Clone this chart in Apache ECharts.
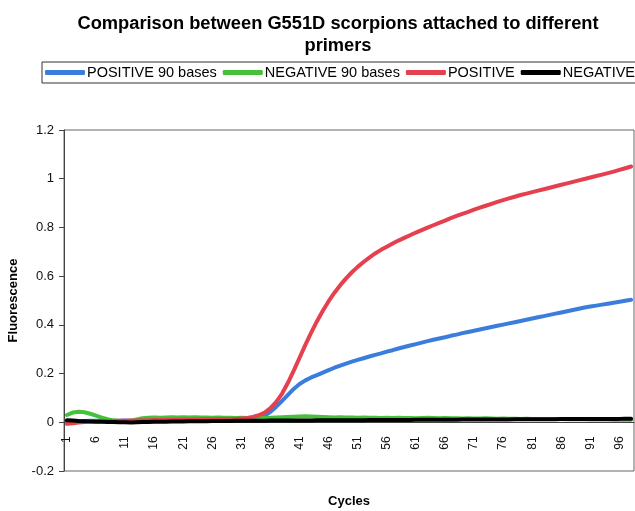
<!DOCTYPE html>
<html>
<head>
<meta charset="utf-8">
<script src="https://cdn.jsdelivr.net/npm/echarts@6/dist/echarts.min.js"></script>
<style>
  html, body { margin: 0; padding: 0; background: #fff; }
  #chart { width: 635px; height: 511px; }
</style>
</head>
<body>
<div id="chart"></div>
<script>
// cycles 1..98 (the picture stops at the right edge)
const cycles = [];
for (let i = 1; i <= 98; i++) cycles.push(String(i));

const positive90 = [0.004,0.004,0.005,0.005,0.006,0.006,0.006,0.005,0.005,0.006,
  0.007,0.006,0.006,0.007,0.007,0.008,0.008,0.008,0.009,0.009,
  0.009,0.010,0.010,0.010,0.010,0.011,0.011,0.011,0.012,0.012,
  0.012,0.013,0.014,0.017,0.027,0.043,0.064,0.088,0.113,0.137,
  0.157,0.172,0.184,0.194,0.204,0.214,0.224,0.233,0.241,0.249,
  0.256,0.263,0.270,0.277,0.283,0.290,0.296,0.303,0.309,0.315,
  0.321,0.327,0.333,0.339,0.344,0.349,0.355,0.360,0.366,0.371,
  0.376,0.381,0.386,0.391,0.396,0.401,0.406,0.411,0.416,0.421,
  0.426,0.431,0.436,0.441,0.446,0.451,0.456,0.461,0.466,0.471,
  0.475,0.479,0.483,0.487,0.491,0.495,0.499,0.503];

const negative90 = [0.030,0.040,0.043,0.041,0.035,0.027,0.019,0.013,0.008,0.005,
  0.004,0.006,0.012,0.017,0.019,0.020,0.019,0.020,0.021,0.020,
  0.021,0.020,0.021,0.020,0.020,0.019,0.020,0.019,0.019,0.018,
  0.019,0.018,0.019,0.018,0.018,0.019,0.020,0.021,0.022,0.023,
  0.024,0.025,0.024,0.023,0.022,0.021,0.020,0.021,0.020,0.020,
  0.019,0.020,0.019,0.019,0.018,0.019,0.018,0.019,0.018,0.018,
  0.017,0.018,0.019,0.018,0.017,0.018,0.017,0.017,0.016,0.017,
  0.016,0.016,0.017,0.016,0.015,0.016,0.015,0.015,0.014,0.015,
  0.014,0.014,0.013,0.014,0.013,0.013,0.012,0.013,0.012,0.012,
  0.011,0.012,0.011,0.011,0.010,0.011,0.010,0.010];

const positive = [-0.006,-0.004,-0.001,0.001,0.003,0.004,0.004,0.005,0.005,0.006,
  0.006,0.007,0.007,0.008,0.008,0.009,0.009,0.010,0.010,0.010,
  0.011,0.011,0.011,0.012,0.012,0.012,0.013,0.013,0.014,0.014,
  0.016,0.018,0.022,0.029,0.040,0.058,0.084,0.118,0.162,0.212,
  0.265,0.318,0.368,0.415,0.458,0.497,0.532,0.563,0.591,0.616,
  0.638,0.658,0.676,0.693,0.708,0.721,0.734,0.746,0.757,0.768,
  0.779,0.789,0.799,0.809,0.819,0.828,0.838,0.847,0.856,0.864,
  0.873,0.881,0.889,0.897,0.905,0.912,0.919,0.926,0.933,0.939,
  0.945,0.951,0.957,0.963,0.969,0.975,0.981,0.987,0.993,0.999,
  1.005,1.011,1.017,1.023,1.029,1.036,1.043,1.050];

const negative = [0.008,0.007,0.005,0.004,0.003,0.002,0.002,0.001,0.001,0.000,
  0.000,-0.001,0.000,0.001,0.001,0.002,0.002,0.002,0.003,0.003,
  0.003,0.004,0.004,0.004,0.004,0.005,0.005,0.005,0.005,0.006,
  0.006,0.006,0.006,0.006,0.006,0.007,0.007,0.007,0.007,0.007,
  0.007,0.007,0.007,0.008,0.008,0.008,0.008,0.008,0.008,0.008,
  0.008,0.008,0.009,0.009,0.009,0.009,0.009,0.009,0.009,0.009,
  0.010,0.010,0.010,0.010,0.010,0.010,0.010,0.010,0.011,0.011,
  0.011,0.011,0.011,0.011,0.011,0.011,0.011,0.012,0.012,0.012,
  0.012,0.012,0.012,0.012,0.012,0.013,0.013,0.013,0.013,0.013,
  0.013,0.014,0.014,0.014,0.014,0.014,0.015,0.015];

const seriesNames = ["POSITIVE 90 bases", "NEGATIVE 90 bases", "POSITIVE", "NEGATIVE"];
const seriesColors = ["#3b7ddd", "#45c13a", "#e5404f", "#000000"];
const seriesData = [positive90, negative90, positive, negative];

const yMin = -0.2;
const yMax = 1.2;
const gridTop = 130;
const gridBottom = 40;
const plotHeight = 511 - gridTop - gridBottom;
// move the category axis up to the zero line (onZero is not picked up here)
const zeroOffset = -plotHeight * (0 - yMin) / (yMax - yMin);

const chart = echarts.init(document.getElementById("chart"));
const font = "Liberation Sans, Arial, sans-serif";

chart.setOption({
  animation: false,
  title: {
    text: "Comparison between G551D scorpions attached to different\nprimers",
    left: 333,
    top: 8,
    textAlign: "center",
    textStyle: { fontFamily: font, fontSize: 18.3, fontWeight: "bold", color: "#000", lineHeight: 22 },
  },
  legend: {
    left: 42,
    top: 62,
    width: 600,
    padding: [3, 4, 3, 3],
    itemGap: 6,
    itemWidth: 40,
    itemHeight: 5,
    icon: "roundRect",
    borderColor: "#333",
    borderWidth: 1,
    data: seriesNames,
    textStyle: { fontFamily: font, fontSize: 14.5, color: "#000", padding: [0, 0, 0, -3] },
  },
  grid: {
    left: 64,
    right: 1,
    top: gridTop,
    bottom: gridBottom,
    outerBoundsMode: "none",
    show: true,
    borderColor: "#666",
    borderWidth: 1,
  },
  xAxis: {
    type: "category",
    data: cycles,
    boundaryGap: true,
    position: "bottom",
    offset: zeroOffset,
    name: "Cycles",
    nameLocation: "middle",
    nameGap: 73,
    nameTextStyle: { fontFamily: font, fontSize: 13, fontWeight: "bold", color: "#000" },
    axisLine: { onZero: false, lineStyle: { color: "#444" } },
    axisTick: { interval: 0, length: 4, lineStyle: { color: "#444" } },
    axisLabel: { interval: 4, rotate: 90, fontFamily: font, fontSize: 12, color: "#111", margin: 14 },
    splitLine: { show: false },
  },
  yAxis: {
    type: "value",
    min: yMin,
    max: yMax,
    interval: 0.2,
    name: "Fluorescence",
    nameLocation: "middle",
    nameGap: 44,
    nameTextStyle: { fontFamily: font, fontSize: 13, fontWeight: "bold", color: "#000" },
    axisLine: { show: true, onZero: false, lineStyle: { color: "#444" } },
    axisTick: { show: true, length: 5, lineStyle: { color: "#444" } },
    axisLabel: {
      fontFamily: font, fontSize: 13, color: "#111", margin: 10,
      formatter: (v) => String(Math.round(v * 10) / 10),
    },
    splitLine: { show: false },
  },
  series: seriesNames.map((name, i) => ({
    name: name,
    type: "line",
    data: seriesData[i],
    showSymbol: false,
    symbol: "none",
    smooth: false,
    lineStyle: { width: 4, color: seriesColors[i], cap: "round", join: "round" },
    itemStyle: { color: seriesColors[i] },
  })),
});
</script>
</body>
</html>
